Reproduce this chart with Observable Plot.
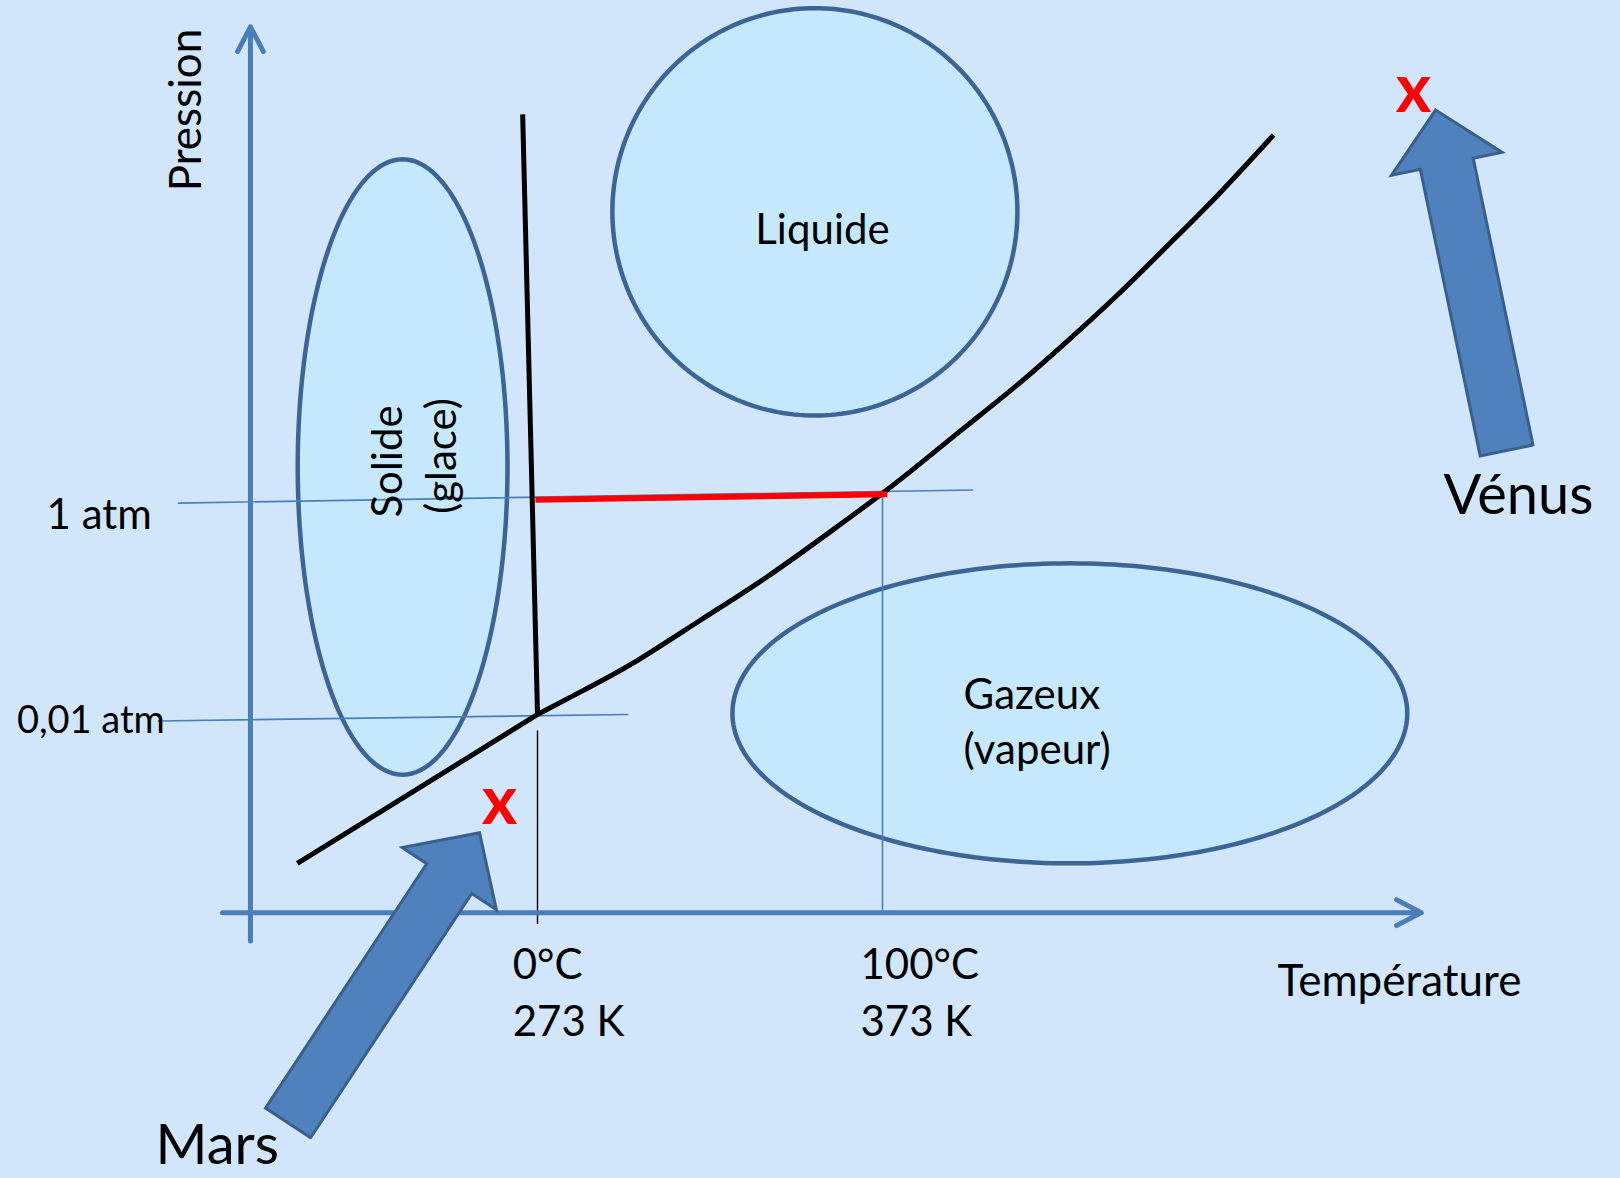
<!DOCTYPE html>
<html><head><meta charset="utf-8">
<script src="https://cdn.jsdelivr.net/npm/d3@7"></script>
<script src="https://cdn.jsdelivr.net/npm/@observablehq/plot@0.6"></script>
<style>html,body{margin:0;padding:0;background:#d2e6fb;overflow:hidden}svg{display:block}</style>
</head><body><div id="chart"></div>
<script>
// ---------- data (x = temperature in °C, y = log10 of pressure in atm, schematic) ----------
// sublimation branch (below the triple point), straight
const subT = [-69.6, 0.01];
const subL = [-3.35, -1.99];
// liquid/vapour equilibrium curve (from the triple point to the top)
const vapT = [0.01, 13.3, 27.8, 47.2, 66.7, 85.8, 100, 110.1, 124.6, 139.1, 153.6, 168.1, 182.6, 197.1, 213.3];
const vapL = [-1.99, -1.77, -1.52, -1.13, -0.73, -0.30, 0.03, 0.28, 0.65, 1.02, 1.42, 1.84, 2.29, 2.75, 3.30];
// solid/liquid curve
const fusT = [-4.3, 0.01];
const fusL = [3.49, -1.99];
// liquid range at 1 atm (red)
const liqT = [-0.6, 101.4];
const liqL = [-0.03, 0.02];
// reference lines
const atm1T = [-104.1, 126.1], atm1L = [-0.06, 0.06];
const atm001T = [-109.9, 26.1], atm001L = [-2.05, -1.99];
const meltDropL = [-2.14, -3.90];   // vertical at 0 °C
const boilDropL = [0.02, -3.77];    // vertical at 100 °C
// axes
const xAxisT = [-91.3, 256.2], xAxisL = -3.80;
const yAxisT = -83.2, yAxisL = [-4.06, 4.29];
// phase regions (ellipses): centre and half-extent
const regionNames = ["Solide", "Liquide", "Gazeux"];
const regionCT = [-39.1, 80.4, 154.3];
const regionCL = [0.27, 2.60, -1.98];
const regionRT = [30.4, 58.7, 97.8];
const regionRL = [2.81, 1.86, 1.37];
// labels
const pLabels = ["1 atm"], pLabelT = [-142.3], pLabelL = [-0.30];
const pLabelsSmall = ["0,01 atm"], pLabelSmallT = [-150.9], pLabelSmallL = [-2.16];
const tLabels = ["0°C", "100°C", "273 K", "373 K"];
const tLabelT = [-7.2, 93.6, -7.2, 93.6];
const tLabelL = [-4.41, -4.41, -4.93, -4.93];
const axisTitleX = "Température", axisTitleXT = 214.5, axisTitleXL = -4.56;
const axisTitleY = "Pression", axisTitleYT = -97.4, axisTitleYL = 3.53;
const liqLabel = ["Liquide"], liqLabelT = [82.6], liqLabelL = [2.31];
const gasLabels = ["Gazeux", "(vapeur)"], gasLabelT = [123.5, 123.5], gasLabelL = [-1.94, -2.44];
const solLabels = ["Solide", "(glace)"], solLabelT = [-39.4, -23.5], solLabelL = [0.32, 0.37];
// planets
const planets = ["Mars", "Vénus"];
const planetLabelT = [-110.7, 262.6], planetLabelL = [-6.10, -0.16];
const planetPointT = [-11.0, 253.9], planetPointL = [-2.99, 3.51];
const arrowTailT = [-72.3, 280.9], arrowTailL = [-5.72, 0.42];
const arrowTipT = [-16.8, 260.3], arrowTipL = [-3.07, 3.53];

// ---------- layout / style ----------
const W = 1620, H = 1178;
const xDomain = [-155.65, 313.91];
const yDomain = [-6.228, 4.530];
const BG = "#d2e6fb", FILL = "#c6e8fd", EDGE = "#3c6595", AXIS = "#4a7ebb";
const ARROW_FILL = "#4f81bd", ARROW_EDGE = "#3a5f8b";
const FONT = "Lato, 'Open Sans', sans-serif";

const sx = d3.scaleLinear(xDomain, [0, W]);
const sy = d3.scaleLinear(yDomain, [H, 0]);

// build tables
const zip2 = (a, b, extra = {}) => a.map((v, i) => ({T: v, L: b[i], ...extra}));

const ellipsePts = [];
regionNames.forEach((name, i) => {
  for (let k = 0; k <= 240; ++k) {
    const a = (2 * Math.PI * k) / 240;
    ellipsePts.push({name, T: regionCT[i] + regionRT[i] * Math.cos(a), L: regionCL[i] + regionRL[i] * Math.sin(a)});
  }
});

// block arrows (shape built in screen space from the scales, then mapped back)
const SHAFT = 54, HEAD_W = 113, HEAD_L = 55;
const arrowPts = [];
planets.forEach((p, i) => {
  const x0 = sx(arrowTailT[i]), y0 = sy(arrowTailL[i]), x1 = sx(arrowTipT[i]), y1 = sy(arrowTipL[i]);
  const dx = x1 - x0, dy = y1 - y0, len = Math.hypot(dx, dy);
  const ux = dx / len, uy = dy / len, px = -uy, py = ux;
  const bx = x1 - ux * HEAD_L, by = y1 - uy * HEAD_L;
  const s = SHAFT / 2, h = HEAD_W / 2;
  const pts = [
    [x0 + px * s, y0 + py * s], [bx + px * s, by + py * s], [bx + px * h, by + py * h], [x1, y1],
    [bx - px * h, by - py * h], [bx - px * s, by - py * s], [x0 - px * s, y0 - py * s], [x0 + px * s, y0 + py * s]
  ];
  pts.forEach(([x, y]) => arrowPts.push({p, T: sx.invert(x), L: sy.invert(y)}));
});

const txt = (labels, Ts, Ls) => labels.map((t, i) => ({t, T: Ts[i], L: Ls[i]}));
const textOpts = {x: "T", y: "L", text: "t", lineAnchor: "bottom", fill: "black"};

const chart = Plot.plot({
  width: W, height: H,
  marginTop: 0, marginRight: 0, marginBottom: 0, marginLeft: 0,
  x: {domain: xDomain, axis: null},
  y: {domain: yDomain, axis: null},
  style: {background: BG, fontFamily: FONT, color: "black"},
  marks: [
    // phase regions
    Plot.line(ellipsePts, {x: "T", y: "L", z: "name", fill: FILL, stroke: EDGE, strokeWidth: 4.5}),
    // reference lines
    Plot.line(zip2(atm1T, atm1L), {x: "T", y: "L", stroke: AXIS, strokeWidth: 1.6}),
    Plot.line(zip2(atm001T, atm001L), {x: "T", y: "L", stroke: AXIS, strokeWidth: 1.6}),
    Plot.line(meltDropL.map(L => ({T: 0, L})), {x: "T", y: "L", stroke: "black", strokeWidth: 1.4}),
    Plot.line(boilDropL.map(L => ({T: 100, L})), {x: "T", y: "L", stroke: AXIS, strokeWidth: 1.6}),
    // axes
    Plot.arrow([{x1: xAxisT[0], x2: xAxisT[1], y1: xAxisL, y2: xAxisL}], {x1: "x1", y1: "y1", x2: "x2", y2: "y2", stroke: AXIS, strokeWidth: 5, headLength: 8.4, headAngle: 55, insetStart: 0, insetEnd: 0}),
    Plot.arrow([{x1: yAxisT, x2: yAxisT, y1: yAxisL[0], y2: yAxisL[1]}], {x1: "x1", y1: "y1", x2: "x2", y2: "y2", stroke: AXIS, strokeWidth: 5, headLength: 8.4, headAngle: 55, insetStart: 0, insetEnd: 0}),
    // equilibrium curves
    Plot.line(zip2(subT, subL), {x: "T", y: "L", stroke: "black", strokeWidth: 5, strokeLinecap: "butt"}),
    Plot.line(zip2(vapT, vapL), {x: "T", y: "L", stroke: "black", strokeWidth: 5, curve: "natural", strokeLinecap: "butt"}),
    Plot.line(zip2(fusT, fusL), {x: "T", y: "L", stroke: "black", strokeWidth: 5, strokeLinecap: "butt"}),
    Plot.line(zip2(liqT, liqL), {x: "T", y: "L", stroke: "#ff0000", strokeWidth: 6, strokeLinecap: "butt"}),
    // planet arrows
    Plot.line(arrowPts, {x: "T", y: "L", z: "p", fill: ARROW_FILL, stroke: ARROW_EDGE, strokeWidth: 3, strokeLinejoin: "miter", strokeMiterlimit: 10}),
    // texts
    Plot.text(txt(pLabels, pLabelT, pLabelL), {...textOpts, textAnchor: "start", fontSize: 42}),
    Plot.text(txt(pLabelsSmall, pLabelSmallT, pLabelSmallL), {...textOpts, textAnchor: "start", fontSize: 38}),
    Plot.text(txt(tLabels, tLabelT, tLabelL), {...textOpts, textAnchor: "start", fontSize: 42}),
    Plot.text([{t: axisTitleX, T: axisTitleXT, L: axisTitleXL}], {...textOpts, textAnchor: "start", fontSize: 44}),
    Plot.text([{t: axisTitleY, T: axisTitleYT, L: axisTitleYL}], {...textOpts, textAnchor: "middle", rotate: -90, fontSize: 44}),
    Plot.text(txt(liqLabel, liqLabelT, liqLabelL), {...textOpts, textAnchor: "middle", fontSize: 42}),
    Plot.text(txt(gasLabels, gasLabelT, gasLabelL), {...textOpts, textAnchor: "start", fontSize: 42}),
    Plot.text(txt(solLabels, solLabelT, solLabelL), {...textOpts, textAnchor: "middle", rotate: -90, fontSize: 42}),
    Plot.text(txt(planets, planetLabelT, planetLabelL), {...textOpts, textAnchor: "start", fontSize: 56}),
    Plot.text(planets.map((p, i) => ({t: "x", T: planetPointT[i], L: planetPointL[i]})), {...textOpts, textAnchor: "middle", fontSize: 68, fontWeight: "bold", fill: "#ff0000"})
  ]
});
document.getElementById("chart").appendChild(chart);
</script></body></html>
